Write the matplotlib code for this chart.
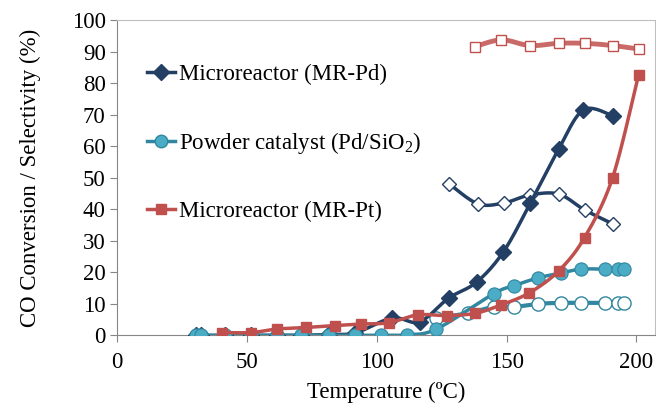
import numpy as np
import matplotlib
matplotlib.use('Agg')
import matplotlib.pyplot as plt

plt.rcParams['font.family'] = 'Liberation Serif'
plt.rcParams['mathtext.fontset'] = 'custom'
plt.rcParams['mathtext.rm'] = 'Liberation Serif'

# MR-Pd conversion (filled diamonds) and selectivity (open diamonds)
pd_t = [30.6, 32.6, 41.5, 51.8, 61.5, 71, 81.5, 91.8, 106, 116.5, 127.7, 138.5, 148.8, 159.2, 170, 179.6, 191]
pd_conv = [0, 0, 0, 0, 0, 0, 0.3, 0.8, 5.5, 4.3, 11.8, 16.9, 26.5, 42, 59, 71.5, 69.6]
pd_sel_t = [128, 139, 149, 159, 170, 180, 191]
pd_sel = [48, 41.7, 42, 44.5, 44.8, 39.8, 35.3]

# Powder catalyst Pd/SiO2
pw_t = [30.6, 32.6, 41.5, 51.8, 61.5, 71, 81.5, 91.8, 101.8, 111.6, 123, 145, 152.7, 162, 171, 178.8, 188, 192.7, 195]
pw_conv = [0, 0, 0, 0, 0, 0, 0, 0, 0, 0.2, 2, 13.2, 15.7, 18.2, 19.8, 21, 21, 21, 21]
pw_sel_t = [122.7, 135, 145, 152.7, 162, 171, 178.8, 188, 192.7, 195]
pw_sel = [5.5, 7, 9, 9, 10, 10.3, 10.3, 10.3, 10.3, 10.3]

# MR-Pt conversion (filled squares) and selectivity (open squares)
pt_t = [40.6, 51.8, 61.5, 72.7, 83.8, 93.8, 104.6, 115.8, 127, 138, 148, 158.8, 170, 180, 190.8, 200.8]
pt_conv = [0.9, 0.9, 2, 2.5, 3.1, 3.6, 4, 6.5, 6.3, 7, 9.7, 13.5, 20.4, 31, 50, 82.6]
pt_sel_t = [137.7, 148, 159, 170, 180, 190.8, 200.8]
pt_sel = [91.5, 93.7, 91.9, 92.6, 92.6, 91.9, 90.8]

navy = '#243F64'
teal = '#4BACC6'
teal_line = '#31879F'
red = '#C0504D'


def smooth(x, y, n=20):
    # Catmull-Rom style curve through the points (like Excel smoothed lines)
    x = np.asarray(x, float)
    y = np.asarray(y, float)
    px = np.concatenate([[x[0]], x, [x[-1]]])
    py = np.concatenate([[y[0]], y, [y[-1]]])
    xs, ys = [], []
    for i in range(1, len(px) - 2):
        t = np.linspace(0, 1, n)
        p0x, p1x, p2x, p3x = px[i - 1], px[i], px[i + 1], px[i + 2]
        p0y, p1y, p2y, p3y = py[i - 1], py[i], py[i + 1], py[i + 2]
        a = 1 / 6
        c1x, c1y = p1x + a * (p2x - p0x), p1y + a * (p2y - p0y)
        c2x, c2y = p2x - a * (p3x - p1x), p2y - a * (p3y - p1y)
        bx = (1 - t) ** 3 * p1x + 3 * (1 - t) ** 2 * t * c1x + 3 * (1 - t) * t ** 2 * c2x + t ** 3 * p2x
        by = (1 - t) ** 3 * p1y + 3 * (1 - t) ** 2 * t * c1y + 3 * (1 - t) * t ** 2 * c2y + t ** 3 * p2y
        xs.extend(bx)
        ys.extend(by)
    return np.array(xs), np.array(ys)


fig = plt.figure(figsize=(6.56, 4.08), dpi=100)
ax = fig.add_axes([0.178, 0.178, 0.82, 0.773])

# selectivity series (open markers, thicker lines)
sx, sy = smooth(pt_sel_t, pt_sel)
ax.plot(sx, sy, color=red, lw=3.5, alpha=0.85, zorder=2)
ax.plot(pt_sel_t, pt_sel, 's', ms=7, mfc='white', mec=red, mew=1, zorder=3)

sx, sy = smooth(pd_sel_t, pd_sel)
ax.plot(sx, sy, color=navy, lw=2.5, zorder=2)
ax.plot(pd_sel_t, pd_sel, 'D', ms=7.5, mfc='white', mec=navy, mew=1, zorder=3)

sx, sy = smooth(pw_sel_t, pw_sel)
ax.plot(sx, sy, color=teal_line, lw=3, zorder=2)
ax.plot(pw_sel_t, pw_sel, 'o', ms=9.5, mfc='white', mec=teal_line, mew=1, zorder=3)

# conversion series
sx, sy = smooth(pd_t, pd_conv)
ax.plot(sx, sy, color=navy, lw=2.5, zorder=4)
ax.plot(pd_t, pd_conv, 'D', ms=8, color=navy, zorder=5)

sx, sy = smooth(pw_t, pw_conv)
ax.plot(sx, sy, color=teal_line, lw=2.5, zorder=6)
ax.plot(pw_t, pw_conv, 'o', ms=9.5, mfc=teal, mec=teal_line, mew=0.8, zorder=7)

sx, sy = smooth(pt_t, pt_conv)
ax.plot(sx, sy, color=red, lw=2.5, zorder=8)
ax.plot(pt_t, pt_conv, 's', ms=7.5, color=red, zorder=9)

# legend entries
ax.plot([], [], '-D', color=navy, lw=2.5, ms=8, label='Microreactor (MR-Pd)')
ax.plot([], [], '-o', color=teal_line, mfc=teal, mec=teal_line, lw=2.5, ms=9, label='Powder catalyst (Pd/SiO$\\mathregular{_2}$)')
ax.plot([], [], '-s', color=red, lw=2.5, ms=7.5, label='Microreactor (MR-Pt)')
h, l = ax.get_legend_handles_labels()
ax.legend(h[-3:], l[-3:], loc='upper left', bbox_to_anchor=(0.018, 0.925), frameon=False,
          fontsize=16.5, handlelength=1.2, handletextpad=0.2, labelspacing=1.95)

ax.set_xlim(0, 207)
ax.set_ylim(0, 100)
ax.set_xticks([0, 50, 100, 150, 200])
ax.set_yticks(range(0, 101, 10))
ax.tick_params(direction='out', length=5, color='#868686', labelsize=16.5)
ax.tick_params(axis='y', pad=3)
ax.tick_params(axis='x', pad=7)
for s in ax.spines.values():
    s.set_color('#868686')
ax.spines['top'].set_color('#BFBFBF')
ax.spines['right'].set_color('#BFBFBF')

ax.set_xlabel('Temperature (ºC)', fontsize=16.5, labelpad=6)
ax.set_ylabel('CO Conversion / Selectivity (%)', fontsize=16.5, labelpad=22)

fig.savefig('out.png', dpi=100)
